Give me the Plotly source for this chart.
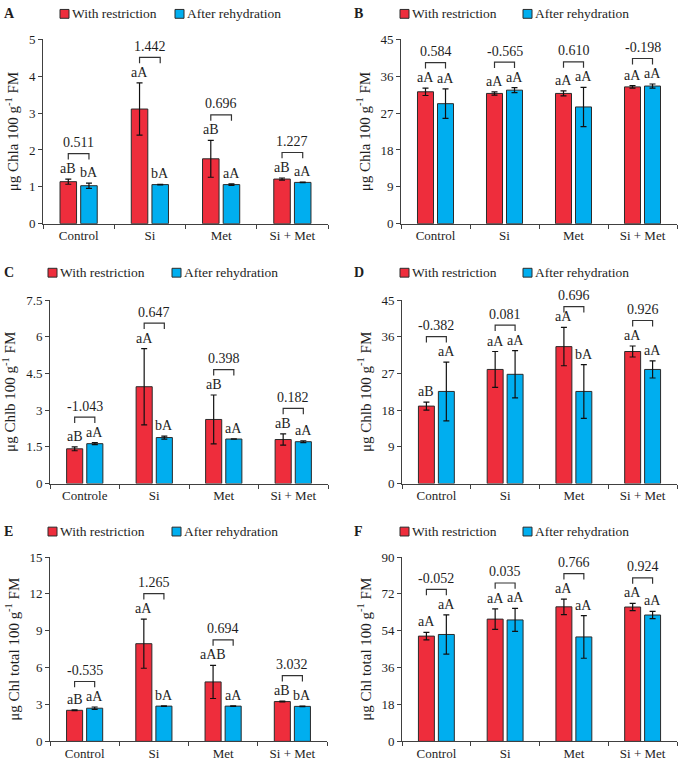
import plotly.graph_objects as go

W, H = 679, 769

# ---------------- data ----------------
cats_main = ["Control", "Si", "Met", "Si + Met"]
cats_c = ["Controle", "Si", "Met", "Si + Met"]
series_names = ["With restriction", "After rehydration"]

# Panel A: Chla (with restriction / after rehydration)
a_restr = [1.14, 3.11, 1.76, 1.21]
a_restr_err = [0.07, 0.71, 0.50, 0.03]
a_rehyd = [1.03, 1.06, 1.06, 1.12]
a_rehyd_err = [0.07, 0.01, 0.02, 0.01]
a_let_restr = ["aB", "aA", "aB", "aB"]
a_let_rehyd = ["bA", "bA", "aA", "aA"]
a_corr = ["0.511", "1.442", "0.696", "1.227"]

# Panel B
b_restr = [32.2, 31.8, 31.8, 33.4]
b_restr_err = [0.9, 0.4, 0.6, 0.3]
b_rehyd = [29.3, 32.6, 28.5, 33.6]
b_rehyd_err = [3.6, 0.6, 4.8, 0.5]
b_let_restr = ["aA", "aA", "aA", "aA"]
b_let_rehyd = ["aA", "aA", "aA", "aA"]
b_corr = ["0.584", "-0.565", "0.610", "-0.198"]

# Panel C: Chlb
c_restr = [1.42, 3.96, 2.62, 1.80]
c_restr_err = [0.08, 1.56, 1.00, 0.23]
c_rehyd = [1.63, 1.88, 1.82, 1.71]
c_rehyd_err = [0.04, 0.06, 0.01, 0.04]
c_let_restr = ["aB", "aA", "aB", "aB"]
c_let_rehyd = ["aA", "bA", "aA", "aA"]
c_corr = ["-1.043", "0.647", "0.398", "0.182"]

# Panel D
d_restr = [19.0, 28.0, 33.6, 32.4]
d_restr_err = [1.0, 4.4, 4.7, 1.35]
d_rehyd = [22.6, 26.8, 22.6, 28.0]
d_rehyd_err = [7.2, 5.8, 6.6, 2.1]
d_let_restr = ["aB", "aA", "aA", "aA"]
d_let_rehyd = ["aA", "aA", "bA", "aA"]
d_corr = ["-0.382", "0.081", "0.696", "0.926"]

# Panel E: Chl total
e_restr = [2.53, 7.95, 4.84, 3.24]
e_restr_err = [0.03, 2.0, 1.35, 0.03]
e_rehyd = [2.70, 2.87, 2.87, 2.85]
e_rehyd_err = [0.10, 0.02, 0.02, 0.02]
e_let_restr = ["aB", "aA", "aAB", "aB"]
e_let_rehyd = ["aA", "bA", "aA", "bA"]
e_corr = ["-0.535", "1.265", "0.694", "3.032"]

# Panel F
f_restr = [51.4, 59.7, 65.7, 65.6]
f_restr_err = [1.8, 5.0, 3.8, 1.8]
f_rehyd = [52.2, 59.3, 51.0, 61.7]
f_rehyd_err = [9.6, 5.6, 10.4, 1.8]
f_let_restr = ["aA", "aA", "aA", "aA"]
f_let_rehyd = ["aA", "aA", "aA", "aA"]
f_corr = ["-0.052", "0.035", "0.766", "0.924"]

y_titles = {
    "A": "μg Chla 100 g<sup>-1</sup> FM",
    "B": "μg Chla 100 g<sup>-1</sup> FM",
    "C": "μg Chlb 100 g<sup>-1</sup> FM",
    "D": "μg Chlb 100 g<sup>-1</sup> FM",
    "E": "μg Chl total 100 g<sup>-1</sup> FM",
    "F": "μg Chl total 100 g<sup>-1</sup> FM",
}
y_ticks = {
    "A": [0, 1, 2, 3, 4, 5],
    "B": [0, 9, 18, 27, 36, 45],
    "C": [0, 1.5, 3, 4.5, 6, 7.5],
    "D": [0, 9, 18, 27, 36, 45],
    "E": [0, 3, 6, 9, 12, 15],
    "F": [0, 18, 36, 54, 72, 90],
}

panels = [
    ("A", cats_main, a_restr, a_restr_err, a_rehyd, a_rehyd_err, a_let_restr, a_let_rehyd, a_corr),
    ("B", cats_main, b_restr, b_restr_err, b_rehyd, b_rehyd_err, b_let_restr, b_let_rehyd, b_corr),
    ("C", cats_c, c_restr, c_restr_err, c_rehyd, c_rehyd_err, c_let_restr, c_let_rehyd, c_corr),
    ("D", cats_main, d_restr, d_restr_err, d_rehyd, d_rehyd_err, d_let_restr, d_let_rehyd, d_corr),
    ("E", cats_main, e_restr, e_restr_err, e_rehyd, e_rehyd_err, e_let_restr, e_let_rehyd, e_corr),
    ("F", cats_main, f_restr, f_restr_err, f_rehyd, f_rehyd_err, f_let_restr, f_let_rehyd, f_corr),
]

# ---------------- layout (pixel boxes) ----------------
boxes = {
    "A": (43, 328, 33, 221),
    "B": (401, 677, 33, 221),
    "C": (50, 328, 299, 486),
    "D": (402, 677, 299, 486),
    "E": (50, 327, 561, 749),
    "F": (402, 677, 561, 749),
}
legend_pos = {  # red-square left x, blue-square left x, center y, label x
    "A": (60, 175, 7, 2),
    "B": (400, 523, 7, 352),
    "C": (48, 172, 271, 2),
    "D": (400, 523, 271, 352),
    "E": (48, 172, 535, 2),
    "F": (400, 523, 535, 352),
}

RED = "#EE2D3C"
BLUE = "#00AEEF"
EDGE = "#2b2b2b"
AX = "#404040"
TXT = "#1e1e1e"
FONT = "Liberation Serif"
BARGAP = 0.42
OFF = (1 - BARGAP) / 4
BRACKET_PX = 26

fig = go.Figure()
shapes = []
annotations = []
layout_axes = {}


def px(x):
    return x / W


def py(y):
    return 1 - y / H


for k, (key, cats, r, re_, b, be, lr, lb, corr) in enumerate(panels):
    idx = "" if k == 0 else str(k + 1)
    xa, ya = "x" + idx, "y" + idx
    x0, x1, y0, y1 = boxes[key]
    ymax = y_ticks[key][-1]
    upp = ymax / (y1 - y0)  # data units per pixel

    for name, vals, errs, col in ((series_names[0], r, re_, RED), (series_names[1], b, be, BLUE)):
        fig.add_trace(go.Bar(
            x=cats, y=vals, name=name, xaxis=xa, yaxis=ya, showlegend=False,
            marker=dict(color=col, line=dict(color=EDGE, width=1)),
            error_y=dict(type="data", array=errs, visible=True, color="#111111", thickness=1.2, width=3),
        ))

    layout_axes["xaxis" + idx] = dict(
        domain=[px(x0), px(x1)], anchor=ya, type="category", range=[-0.5, 3.5],
        showline=True, linecolor=AX, linewidth=1, ticks="outside", tickson="boundaries",
        ticklen=4, tickcolor=AX, showgrid=False, zeroline=False,
        tickfont=dict(family=FONT, size=13, color=TXT),
    )
    layout_axes["yaxis" + idx] = dict(
        domain=[py(y1), py(y0)], anchor=xa, range=[0, ymax],
        tickvals=y_ticks[key], ticktext=[f"{v:g}" for v in y_ticks[key]],
        showline=True, linecolor=AX, linewidth=1, ticks="outside", ticklen=4, tickcolor=AX,
        showgrid=False, zeroline=False,
        tickfont=dict(family=FONT, size=13, color=TXT),
        title=dict(text=y_titles[key], font=dict(family=FONT, size=15, color=TXT), standoff=6),
    )

    for i in range(len(cats)):
        tops = [r[i] + re_[i], b[i] + be[i]]
        for j, (t, lab) in enumerate(zip(tops, (lr[i], lb[i]))):
            annotations.append(dict(
                x=i + (-OFF if j == 0 else OFF), y=t, xref=xa, yref=ya, text=lab,
                showarrow=False, yanchor="bottom", yshift=1,
                font=dict(family=FONT, size=14, color=TXT),
            ))
        top = max(tops)
        yb = min(top + BRACKET_PX * upp, ymax * 0.965)
        leg = 6 * upp
        xl, xr = i - OFF, i + OFF
        shapes.append(dict(
            type="path", xref=xa, yref=ya,
            path=f"M {xl},{yb - leg} L {xl},{yb} L {xr},{yb} L {xr},{yb - leg}",
            line=dict(color="#333333", width=1.2),
        ))
        annotations.append(dict(
            x=i, y=top, xref=xa, yref=ya, text=corr[i], showarrow=False,
            yanchor="bottom", yshift=(yb - top) / upp + 1,
            font=dict(family=FONT, size=14, color=TXT),
        ))

    # panel letter and legend
    rx, bx, cy, lx = legend_pos[key]
    annotations.append(dict(
        x=px(lx), y=py(cy), xref="paper", yref="paper", text=f"<b>{key}</b>",
        showarrow=False, xanchor="left", yanchor="middle",
        font=dict(family=FONT, size=14, color=TXT),
    ))
    for sx, col, name in ((rx, RED, series_names[0]), (bx, BLUE, series_names[1])):
        shapes.append(dict(
            type="rect", xref="paper", yref="paper",
            x0=px(sx), x1=px(sx + 9), y0=py(cy + 4.5), y1=py(cy - 4.5),
            fillcolor=col, line=dict(color=EDGE, width=1),
        ))
        annotations.append(dict(
            x=px(sx + 10), y=py(cy), xref="paper", yref="paper", text=name,
            showarrow=False, xanchor="left", yanchor="middle",
            font=dict(family=FONT, size=13.5, color=TXT),
        ))

fig.update_layout(
    width=W, height=H, margin=dict(l=0, r=0, t=0, b=0),
    paper_bgcolor="white", plot_bgcolor="white",
    barmode="group", bargap=BARGAP, bargroupgap=0.2,
    shapes=shapes, annotations=annotations, showlegend=False,
    **layout_axes,
)

fig.write_html("out.html", post_script="document.body.style.margin='0';document.body.style.padding='0';")
